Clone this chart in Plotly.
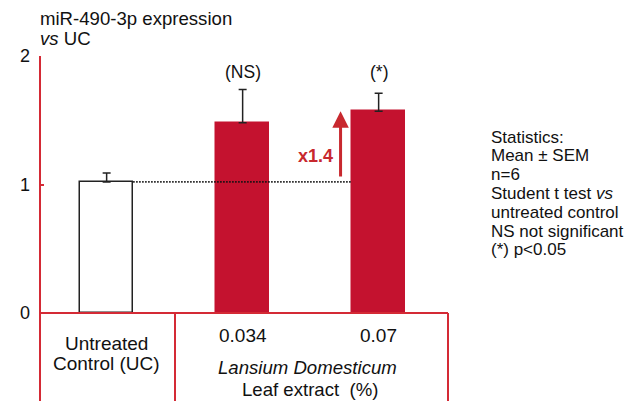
import plotly.graph_objects as go

categories = [0, 1, 2]
values = [1.02, 1.48, 1.57]
sem = [0.07, 0.26, 0.14]
bar_colors = ["white", "#C4122F", "#C4122F"]
bar_lines = ["#222222", "#C4122F", "#C4122F"]
sig_labels = ["", "(NS)", "(*)"]
ytick_vals = [0, 1, 2]
ytick_text = ["0", "1", "2"]
dose_labels = ["0.034", "0.07"]
stats_lines = ["Statistics:", "Mean ± SEM", "n=6", "Student t test <i>vs</i>",
               "untreated control", "NS not significant", "(*) p<0.05"]
fold_label = "x1.4"

RED = "#D42A35"
FONT = "Liberation Sans, Arial, Helvetica, sans-serif"

OFF = 8  # page body margin
W, H = 630, 393
L, R, T, B = 29, 190, 48, 88
PW, PH = W - L - R, H - T - B


def px(x):
    return (x - OFF - L) / PW


def py(y):
    return (H - B - (y - OFF)) / PH


fig = go.Figure()
fig.add_trace(go.Bar(
    x=categories, y=values, width=0.39,
    marker=dict(color=bar_colors, line=dict(color=bar_lines, width=1.5)),
    error_y=dict(type="data", array=sem, arrayminus=[0, 0, 0], symmetric=False,
                 color="#222222", thickness=1.5, width=4),
    showlegend=False, hoverinfo="skip",
))

# dotted reference line at control level
fig.add_trace(go.Scatter(
    x=[0.195, 1.8], y=[values[0], values[0]], mode="lines",
    line=dict(color="#111111", width=1.8, dash="1.5px,1.5px"),
    showlegend=False, hoverinfo="skip", cliponaxis=False,
))

fig.update_layout(
    width=W, height=H,
    margin=dict(l=L, r=R, t=T, b=B, pad=0),
    paper_bgcolor="white", plot_bgcolor="white",
    font=dict(family=FONT, size=17, color="#111111"),
    bargap=0,
    xaxis=dict(range=[-0.49, 2.51], showticklabels=False, showgrid=False,
               zeroline=False, showline=False, ticks="", fixedrange=True),
    yaxis=dict(range=[0, 2], tickvals=ytick_vals, ticktext=ytick_text,
               ticks="inside", ticklen=4, tickcolor=RED, tickwidth=2,
               showgrid=False, zeroline=False, showline=False,
               ticklabelstandoff=9, tickfont=dict(size=18, family=FONT),
               fixedrange=True),
)

ybot = -B / PH
sep_x = px(173)
shapes = [
    dict(type="line", xref="paper", yref="paper", x0=0, x1=0, y0=ybot, y1=1,
         line=dict(color=RED, width=2)),
    dict(type="line", xref="paper", yref="paper", x0=0, x1=1, y0=0, y1=0,
         line=dict(color=RED, width=2)),
    dict(type="line", xref="paper", yref="paper", x0=sep_x, x1=sep_x, y0=ybot, y1=0,
         line=dict(color=RED, width=2)),
    dict(type="line", xref="paper", yref="paper", x0=1, x1=1, y0=ybot, y1=0,
         line=dict(color=RED, width=2)),
]
fig.update_layout(shapes=shapes)

ann = []
# title
ann.append(dict(text="miR-490-3p expression", xref="paper", yref="paper",
                x=px(35), y=py(18.5), xanchor="left", yanchor="middle",
                showarrow=False, font=dict(size=18.6)))
ann.append(dict(text="<i>vs</i> UC", xref="paper", yref="paper",
                x=px(35), y=py(38.5), xanchor="left", yanchor="middle",
                showarrow=False, font=dict(size=18.6)))

# significance labels
for c, lab in zip(categories, sig_labels):
    if lab:
        ann.append(dict(text=lab, x=c, xref="x", y=py(72), yref="paper",
                        showarrow=False, xanchor="center", yanchor="middle",
                        font=dict(size=17.5)))

# fold change arrow
ann.append(dict(x=1.72, y=1.57, ax=1.72, ay=values[0] + 0.03, xref="x", yref="y",
                axref="x", ayref="y", text="", showarrow=True, arrowhead=2,
                arrowsize=1.1, arrowwidth=3, arrowcolor="#C8282E"))
ann.append(dict(text="<b>" + fold_label + "</b>", x=px(314.5), xref="paper",
                y=py(155.5), yref="paper", showarrow=False, xanchor="center",
                yanchor="middle", font=dict(size=18, color="#C8282E")))

# table text
ann.append(dict(text="Untreated", x=0, xref="x", y=py(343), yref="paper",
                showarrow=False, xanchor="center", yanchor="middle",
                font=dict(size=19)))
ann.append(dict(text="Control (UC)", x=0, xref="x", y=py(363.5), yref="paper",
                showarrow=False, xanchor="center", yanchor="middle",
                font=dict(size=19)))
for c, lab in zip(categories[1:], dose_labels):
    ann.append(dict(text=lab, x=c, xref="x", y=py(335), yref="paper",
                    showarrow=False, xanchor="center", yanchor="middle",
                    font=dict(size=19)))
ann.append(dict(text="<i>Lansium Domesticum</i>", x=px(306), xref="paper",
                y=py(367), yref="paper", showarrow=False, xanchor="center",
                yanchor="middle", font=dict(size=18.6)))
ann.append(dict(text="Leaf extract  (%)", x=px(308.5), xref="paper",
                y=py(389), yref="paper", showarrow=False, xanchor="center",
                yanchor="middle", font=dict(size=18.6)))

# statistics text
for i, line in enumerate(stats_lines):
    ann.append(dict(text=line, x=px(489), xref="paper",
                    y=py(137 + i * 18.8), yref="paper", xanchor="left",
                    yanchor="middle", showarrow=False, font=dict(size=17)))

fig.update_layout(annotations=ann)
fig.write_html("out.html")
